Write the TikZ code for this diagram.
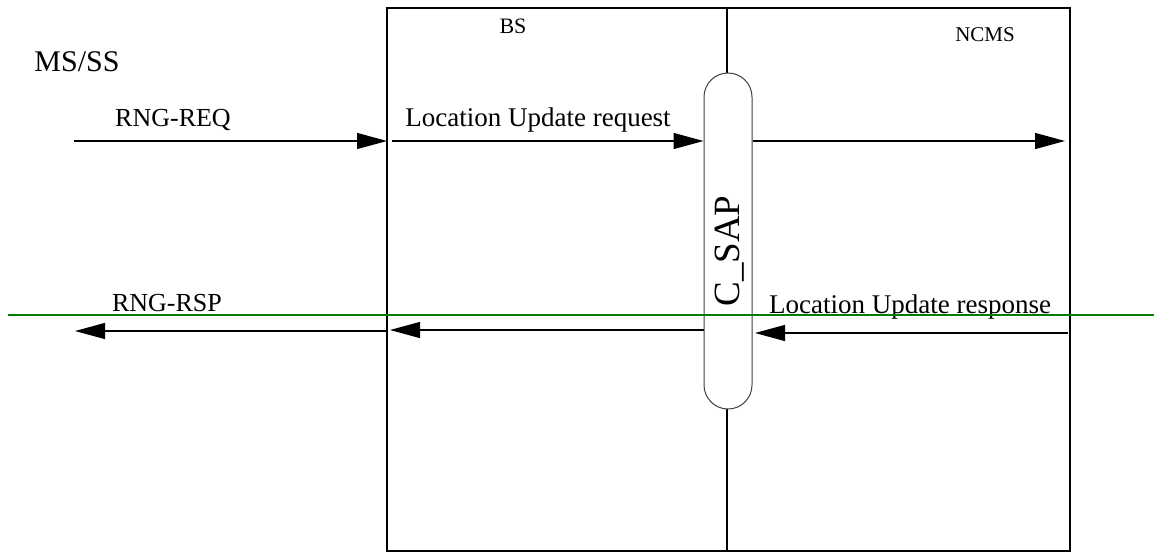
\documentclass[tikz,border=0pt]{standalone}
\usepackage{fontspec}
\setmainfont{Liberation Serif}
\usetikzlibrary{arrows.meta}

\begin{document}
\begin{tikzpicture}[x=0.5pt, y=-0.5pt, every node/.style={inner sep=0pt},
    msg/.style={line width=0.6pt, -{Triangle[length=15pt,width=8pt]}},
    lbl/.style={anchor=base, font=\fontsize{13}{15}\selectfont},
    pill/.style={draw=black!75, line width=0.5pt, fill=white, rounded corners=12pt, minimum width=24pt, minimum height=168pt}]
\useasboundingbox (0,0) rectangle (1154,552);
    % entity boxes
    \draw[line width=0.6pt] (387,8) rectangle (727,551);
    \draw[line width=0.6pt] (727,8) rectangle (1070,551);
    \node[pill] (sap) at (728,241) {};
    \node[rotate=90, anchor=base, font=\fontsize{18.5}{21}\selectfont] (saptxt) at (739,251) {C\_SAP};
    % labels
    \node[anchor=base, font=\fontsize{15}{18}\selectfont] (ms) at (77,71) {MS/SS};
    \node[lbl, font=\fontsize{11}{13}\selectfont] (bs) at (513,33) {BS};
    \node[lbl, font=\fontsize{10.5}{13}\selectfont] (ncms) at (985,41) {NCMS};
    \node[lbl] (req) at (173,126) {RNG-REQ};
    \node[lbl, font=\fontsize{13.5}{16}\selectfont] (lureq) at (538,126) {Location Update request};
    \node[lbl] (rsp) at (167,311) {RNG-RSP};
    \node[lbl, font=\fontsize{13.5}{16}\selectfont] (lursp) at (910,313) {Location Update response};
    % message end points
    \coordinate (a0) at (74,141);
    \coordinate (a1) at (387,141);
    \coordinate (b0) at (392,141);
    \coordinate (b1) at (sap.west |- b0);
    \coordinate (c0) at (sap.east |- b0);
    \coordinate (c1) at (1065,141);
    \coordinate (d0) at (1068,333);
    \coordinate (d1) at (755,333);
    \coordinate (e0) at (704,330);
    \coordinate (e1) at (390,330);
    \coordinate (f0) at (387,331);
    \coordinate (f1) at (75,331);
    \foreach \from/\to in {a0/a1, b0/b1, c0/c1, d0/d1, e0/e1, f0/f1}
        \draw[msg] (\from) -- (\to);
    % green rule
    \coordinate (g0) at (8,315);
    \coordinate (g1) at (1154,315);
\draw[green!50!black, line width=1pt] (g0) -- (g1);
\end{tikzpicture}
\end{document}
